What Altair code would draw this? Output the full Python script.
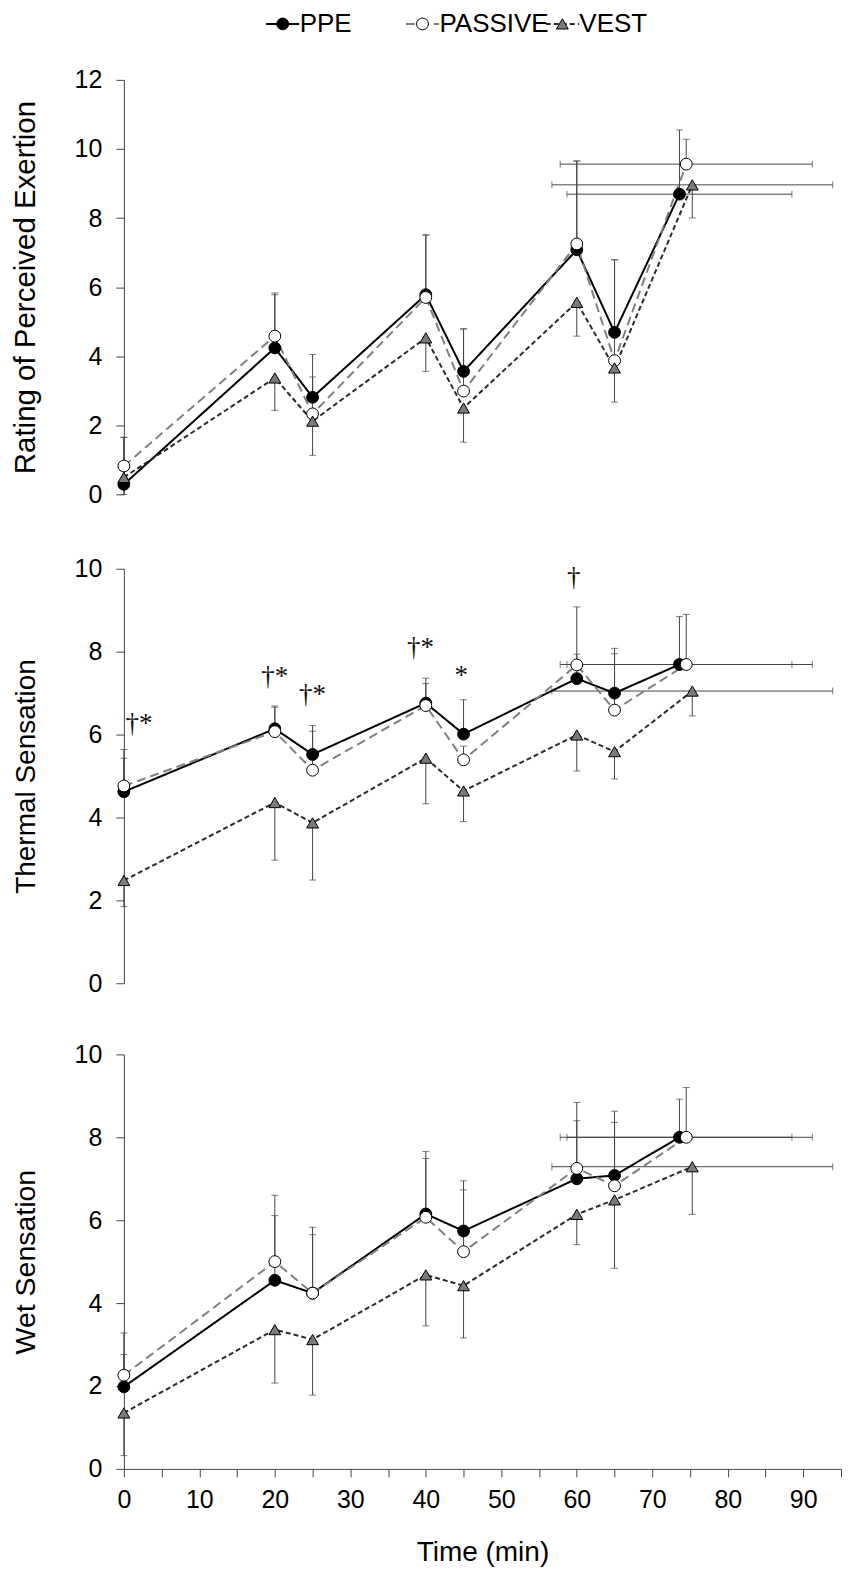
import altair as alt
import pandas as pd

SERIES = ["PPE", "PASSIVE", "VEST"]
TIMES = [0, 20, 25, 40, 45, 60, 65]
END_TIME = [73.6, 74.5, 75.3]        # final time point (mean) per condition
END_TIME_SD = [14.9, 16.7, 18.6]     # SD of final time

# Rating of Perceived Exertion: means and error-bar ends
rpe_ppe = [0.29, 4.24, 2.81, 5.78, 3.56, 7.08, 4.69, 8.69]
rpe_ppe_end = [1.65, 5.78, 4.05, 7.51, 4.79, 9.65, 6.79, 10.55]
rpe_pas = [0.82, 4.58, 2.33, 5.70, 2.99, 7.25, 3.87, 9.56]
rpe_pas_end = [1.65, 5.83, 3.40, 7.51, 4.79, 9.65, 6.79, 10.28]
rpe_vest = [0.49, 3.37, 2.12, 4.53, 2.50, 5.56, 3.66, 8.96]
rpe_vest_end = [0.00, 2.43, 1.13, 3.56, 1.51, 4.58, 2.67, 8.00]

# Thermal Sensation
ts_ppe = [4.62, 6.14, 5.52, 6.76, 6.01, 7.35, 7.00, 7.69]
ts_ppe_end = [5.43, 6.69, 6.22, 7.36, 6.84, 9.08, 8.08, 8.85]
ts_pas = [4.76, 6.07, 5.14, 6.70, 5.39, 7.68, 6.59, 7.69]
ts_pas_end = [5.64, 6.66, 6.08, 7.23, 5.72, 7.94, 7.95, 8.90]
ts_vest = [2.48, 4.36, 3.87, 5.43, 4.64, 5.99, 5.59, 7.05]
ts_vest_end = [1.85, 2.97, 2.49, 4.33, 3.90, 5.12, 4.93, 6.45]

# Wet Sensation
ws_ppe = [1.98, 4.55, 4.24, 6.15, 5.74, 7.00, 7.08, 8.00]
ws_ppe_end = [2.76, 6.60, 5.83, 7.66, 6.95, 8.84, 8.63, 8.92]
ws_pas = [2.26, 5.00, 4.24, 6.07, 5.24, 7.25, 6.83, 8.00]
ws_pas_end = [3.28, 6.11, 5.65, 7.49, 6.73, 8.40, 8.36, 9.20]
ws_vest = [1.35, 3.36, 3.12, 4.68, 4.42, 6.14, 6.49, 7.29]
ws_vest_end = [0.32, 2.07, 1.78, 3.45, 3.16, 5.41, 4.84, 6.14]

# Significance annotations (thermal sensation panel)
ann_time = [2.0, 20.0, 25.0, 39.3, 44.7, 59.6]
ann_value = [6.25, 7.40, 6.96, 8.09, 7.42, 9.78]
ann_text = ["†*", "†*", "†*", "†*", "*", "†"]

LINE_COLORS = ["#000000", "#808080", "#2b2b2b"]
DASHES = [[1, 0], [9, 5], [5, 3]]
FILLS = ["#000000", "#ffffff", "#7a7a7a"]
SHAPES = ["circle", "circle", "triangle-up"]
FONT = "Liberation Sans"
ERR_COLOR = "#444444"


def build(means, ends):
    rows, hrows = [], []
    for si, s in enumerate(SERIES):
        times = TIMES + [END_TIME[si]]
        for i, t in enumerate(times):
            rows.append(dict(series=s, time=t, value=means[si][i], err=ends[si][i]))
        hrows.append(dict(series=s, time=END_TIME[si], value=means[si][-1],
                          tlo=END_TIME[si] - END_TIME_SD[si],
                          thi=END_TIME[si] + END_TIME_SD[si]))
    return pd.DataFrame(rows), pd.DataFrame(hrows)


W = 718
H = 415

color_s = alt.Scale(domain=SERIES, range=LINE_COLORS)
dash_s = alt.Scale(domain=SERIES, range=DASHES)
fill_s = alt.Scale(domain=SERIES, range=FILLS)
shape_s = alt.Scale(domain=SERIES, range=SHAPES)


def panel(means, ends, ytitle, ymax, show_x, title_size, ann=None):
    df, hdf = build(means, ends)
    xs = alt.Scale(domain=[0, 95], nice=False, zero=False)
    ys = alt.Scale(domain=[0, ymax], nice=False)
    if show_x:
        xaxis = alt.Axis(values=list(range(0, 96, 5)),
                         labelExpr="datum.value % 10 == 0 ? datum.label : ''",
                         labelFlush=False, tickSize=8, labelPadding=11,
                         titlePadding=26, labelFontSize=25, titleFontSize=28,
                         grid=False)
        xtitle = "Time (min)"
    else:
        xaxis = None
        xtitle = None
    yaxis = alt.Axis(values=list(range(0, ymax + 1, 2)), tickSize=8,
                     labelPadding=14, titlePadding=34, labelFontSize=25,
                     titleFontSize=title_size, grid=False)

    def X(f):
        return alt.X(f, scale=xs, axis=xaxis, title=xtitle)

    def Y(f):
        return alt.Y(f, scale=ys, axis=yaxis, title=ytitle)

    base = alt.Chart(df)
    vbars = base.mark_errorbar(ticks={"size": 7}, thickness=1, color=ERR_COLOR).encode(
        x=X("time:Q"), y=Y("value:Q"), y2="err:Q")
    hbars = alt.Chart(hdf).mark_errorbar(ticks={"size": 7}, thickness=1, color=ERR_COLOR).encode(
        x=X("tlo:Q"), x2="thi:Q", y=Y("value:Q"))
    lines = base.mark_line(strokeWidth=2).encode(
        x=X("time:Q"), y=Y("value:Q"),
        color=alt.Color("series:N", scale=color_s, legend=None),
        strokeDash=alt.StrokeDash("series:N", scale=dash_s, legend=None),
        detail="series:N")
    pts = base.mark_point(filled=True, size=140, stroke="black", strokeWidth=1, opacity=1).encode(
        x=X("time:Q"), y=Y("value:Q"),
        fill=alt.Fill("series:N", scale=fill_s, legend=None),
        shape=alt.Shape("series:N", scale=shape_s, legend=None))
    layers = [hbars, vbars, lines, pts]
    if ann is not None:
        adf = pd.DataFrame({"time": ann[0], "value": ann[1], "label": ann[2]})
        txt = alt.Chart(adf).mark_text(font="Liberation Serif", fontSize=27, color="#111111",
                                       baseline="middle", align="center").encode(
            x=X("time:Q"), y=Y("value:Q"), text="label:N")
        layers.append(txt)
    return alt.layer(*layers).properties(width=W, height=H)


p1 = panel([rpe_ppe, rpe_pas, rpe_vest], [rpe_ppe_end, rpe_pas_end, rpe_vest_end],
           "Rating of Perceived Exertion", 12, False, 29.5)
p2 = panel([ts_ppe, ts_pas, ts_vest], [ts_ppe_end, ts_pas_end, ts_vest_end],
           "Thermal Sensation", 10, False, 28, ann=(ann_time, ann_value, ann_text))
p3 = panel([ws_ppe, ws_pas, ws_vest], [ws_ppe_end, ws_pas_end, ws_vest_end],
           "Wet Sensation", 10, True, 28.5)

# legend row
leg_df = pd.DataFrame({"series": SERIES, "label": SERIES})
lx = alt.X("series:N", scale=alt.Scale(type="point", domain=SERIES, padding=0, range=[159, 439]),
           axis=None)
seg = alt.Chart(leg_df).mark_point(shape="M-1,0L1,0", size=1100, strokeWidth=2, filled=False,
                                   opacity=1).encode(
    x=lx,
    stroke=alt.Stroke("series:N", scale=color_s, legend=None),
    strokeDash=alt.StrokeDash("series:N", scale=dash_s, legend=None))
mk = alt.Chart(leg_df).mark_point(filled=True, size=140, stroke="black", strokeWidth=1,
                                  opacity=1).encode(
    x=lx,
    fill=alt.Fill("series:N", scale=fill_s, legend=None),
    shape=alt.Shape("series:N", scale=shape_s, legend=None))
lt = alt.Chart(leg_df).mark_text(align="left", baseline="middle", dx=17, font=FONT,
                                 fontSize=26, color="black").encode(x=lx, text="label:N")
legend = alt.layer(seg, mk, lt).properties(width=594, height=26)

upper = alt.vconcat(p1, p2, spacing=49.5)
panels = alt.vconcat(upper, p3, spacing=45.7)
chart = alt.vconcat(legend, panels, spacing=31).properties(
    padding={"left": 2, "top": 2, "right": 0, "bottom": 0}
).configure_view(stroke=None).configure_axis(
    labelFont=FONT, titleFont=FONT, labelColor="black", titleColor="black",
    domainColor="#444444", tickColor="#444444", domainWidth=1, tickWidth=1,
    titleFontWeight="normal"
)

chart.save("out.html", embed_options={"renderer": "svg", "actions": False})
